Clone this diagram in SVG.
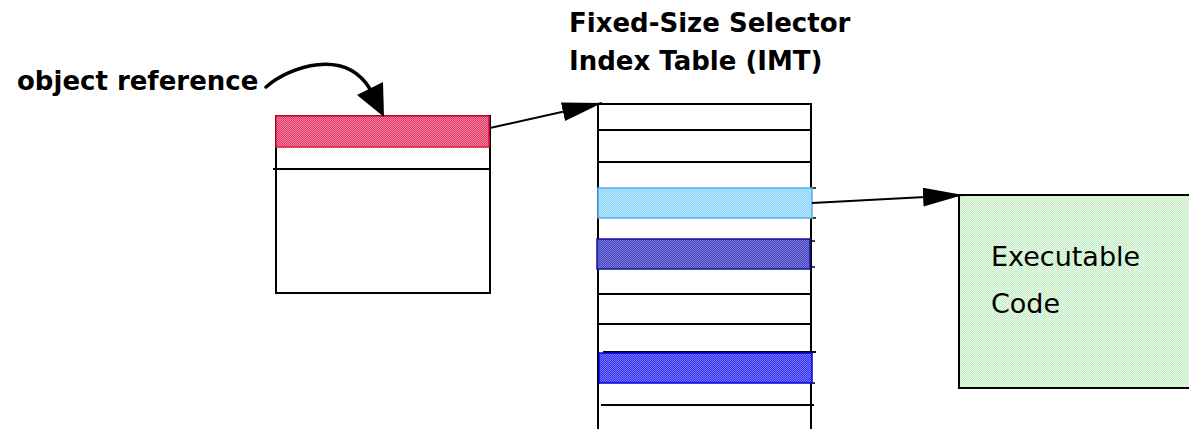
<svg xmlns="http://www.w3.org/2000/svg" width="1189" height="429" viewBox="0 0 1189 429">
  <style>
    .bold { font-family: "DejaVu Sans", "Liberation Sans", sans-serif; font-weight: bold; font-size: 26px; fill: #000; }
    .code { font-family: "DejaVu Sans", "Liberation Sans", sans-serif; font-size: 27px; fill: #000; }
    .edge { fill: none; stroke: #000; stroke-width: 2; }
    .conn { fill: none; stroke: #000; stroke-width: 2; }
  </style>
  <defs>
    <!-- dithered fills -->
    <pattern id="pPink" width="2" height="2" patternUnits="userSpaceOnUse">
      <rect width="2" height="2" fill="#e23a66"/>
      <rect width="1" height="1" fill="#f4849f"/>
      <rect x="1" y="1" width="1" height="1" fill="#f4849f"/>
    </pattern>
    <pattern id="pCyan" width="2" height="2" patternUnits="userSpaceOnUse">
      <rect width="2" height="2" fill="#88d2ff"/>
      <rect width="1" height="1" fill="#bce8ff"/>
      <rect x="1" y="1" width="1" height="1" fill="#bce8ff"/>
    </pattern>
    <pattern id="pNavy" width="2" height="2" patternUnits="userSpaceOnUse">
      <rect width="2" height="2" fill="#4242ba"/>
      <rect width="1" height="1" fill="#7c7cdc"/>
      <rect x="1" y="1" width="1" height="1" fill="#7c7cdc"/>
    </pattern>
    <pattern id="pBlue" width="2" height="2" patternUnits="userSpaceOnUse">
      <rect width="2" height="2" fill="#3232f2"/>
      <rect width="1" height="1" fill="#7676ff"/>
      <rect x="1" y="1" width="1" height="1" fill="#7676ff"/>
    </pattern>
    <pattern id="pGreen" width="2" height="2" patternUnits="userSpaceOnUse">
      <rect width="2" height="2" fill="#c4ecc4"/>
      <rect width="1" height="1" fill="#eafbea"/>
      <rect x="1" y="1" width="1" height="1" fill="#eafbea"/>
    </pattern>
    <marker id="head" viewBox="0 0 40 19" refX="40" refY="9.5" markerWidth="40" markerHeight="19" markerUnits="userSpaceOnUse" orient="auto">
      <path d="M0,0 L40,9.5 L0,19 z" fill="#000"/>
    </marker>
  </defs>

  <rect width="1189" height="429" fill="#fff"/>

  <!-- object record -->
  <g id="object">
    <rect x="276" y="116" width="214" height="177" class="edge"/>
    <line x1="273" y1="169" x2="489" y2="169" stroke="#000" stroke-width="2"/>
    <rect x="276" y="116" width="213" height="31" fill="url(#pPink)" stroke="#e0103c" stroke-width="1.5"/>
  </g>

  <g id="object-label">
    <text class="bold" x="17" y="90">object reference</text>
  </g>

  <!-- selector index table -->
  <g id="imt">
    <line x1="598" y1="103" x2="598" y2="429" stroke="#000" stroke-width="2"/>
    <line x1="811" y1="103" x2="811" y2="429" stroke="#000" stroke-width="2"/>
    <line x1="598" y1="104" x2="811" y2="104" stroke="#000" stroke-width="2"/>
    <line x1="598" y1="130" x2="811" y2="130" stroke="#000" stroke-width="2"/>
    <line x1="598" y1="162" x2="811" y2="162" stroke="#000" stroke-width="2"/>
    <line x1="598" y1="294" x2="810" y2="294" stroke="#000" stroke-width="2"/>
    <line x1="598" y1="324" x2="811" y2="324" stroke="#000" stroke-width="2"/>
    <line x1="603" y1="352" x2="816" y2="352" stroke="#000" stroke-width="2"/>
    <line x1="601" y1="405" x2="814" y2="405" stroke="#000" stroke-width="2"/>
    <!-- row ticks on the right edge -->
    <g stroke="#000" stroke-width="1.5">
      <line x1="811" y1="188" x2="816" y2="188"/>
      <line x1="811" y1="218" x2="816" y2="218"/>
      <line x1="811" y1="241" x2="815" y2="241"/>
      <line x1="811" y1="267" x2="815" y2="267"/>
      <line x1="811" y1="383" x2="815" y2="383"/>
    </g>
    <rect x="598" y="188" width="214" height="30" fill="url(#pCyan)" stroke="#55aee8" stroke-width="1.5"/>
    <rect x="597" y="239" width="213" height="30" fill="url(#pNavy)" stroke="#1010a0" stroke-width="1.5"/>
    <rect x="599" y="353" width="213" height="30" fill="url(#pBlue)" stroke="#0000e0" stroke-width="1.5"/>
  </g>

  <g id="imt-label">
    <text class="bold" x="569" y="32">Fixed-Size Selector</text>
    <text class="bold" x="569" y="70">Index Table (IMT)</text>
  </g>

  <!-- target code block -->
  <g id="code">
    <rect x="959" y="195" width="240" height="193" fill="url(#pGreen)" stroke="#000" stroke-width="2"/>
    <text class="code" x="991" y="266">Executable</text>
    <text class="code" x="991" y="313">Code</text>
  </g>

  <!-- connectors -->
  <g id="connectors">
    <path d="M266,87 C290,66 345,48 370,89" fill="none" stroke="#000" stroke-width="3.5" stroke-linecap="round"/>
    <polygon points="357,95 383,82 384,117" fill="#000"/>
    <line x1="490" y1="128" x2="602" y2="103" class="conn" marker-end="url(#head)"/>
    <line x1="812" y1="203" x2="963" y2="195" class="conn" marker-end="url(#head)"/>
  </g>
</svg>
